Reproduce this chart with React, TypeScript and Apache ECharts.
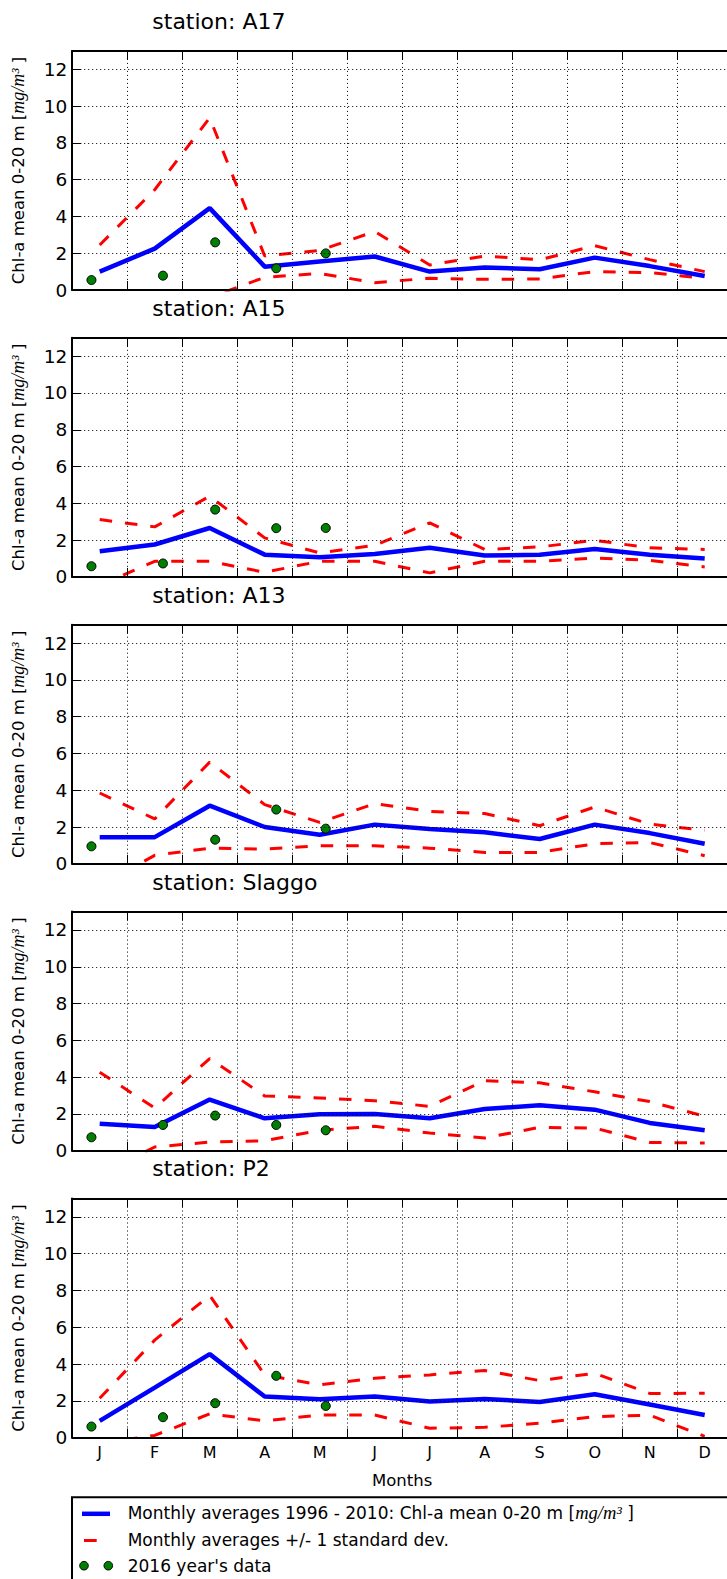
import React, { useEffect, useRef } from "react";
import * as echarts from "echarts";

// ---------- data ----------
const MONTH_LABELS = ["J", "F", "M", "A", "M", "J", "J", "A", "S", "O", "N", "D"];
const MONTH_MID = [0.5, 1.5, 2.5, 3.5, 4.5, 5.5, 6.5, 7.5, 8.5, 9.5, 10.5, 11.5];
const SAMPLE_MONTH = [0.35, 1.65, 2.6, 3.71, 4.61];
const STATIONS = ["A17", "A15", "A13", "Slaggo", "P2"];

const meanA17 = [1.0, 2.25, 4.45, 1.27, 1.55, 1.82, 1.0, 1.22, 1.13, 1.76, 1.3, 0.76];
const upperA17 = [2.45, 5.45, 9.36, 1.85, 2.15, 3.18, 1.36, 1.85, 1.64, 2.41, 1.65, 1.0];
const lowerA17 = [-0.45, -0.9, -0.4, 0.69, 0.9, 0.4, 0.64, 0.58, 0.6, 1.0, 0.95, 0.63];
const sampleA17 = [0.54, 0.78, 2.59, 1.18, 1.99];

const meanA15 = [1.4, 1.76, 2.66, 1.21, 1.07, 1.25, 1.58, 1.16, 1.21, 1.52, 1.21, 1.0];
const upperA15 = [3.12, 2.72, 4.39, 2.12, 1.3, 1.72, 2.94, 1.49, 1.63, 1.99, 1.58, 1.49];
const lowerA15 = [-0.45, 0.85, 0.85, 0.25, 0.85, 0.85, 0.22, 0.85, 0.85, 1.03, 0.9, 0.54];
const sampleA15 = [0.58, 0.73, 3.66, 2.65, 2.66];

const meanA13 = [1.45, 1.45, 3.16, 2.0, 1.58, 2.13, 1.89, 1.71, 1.35, 2.13, 1.67, 1.09];
const upperA13 = [3.85, 2.44, 5.53, 3.22, 2.25, 3.27, 2.85, 2.73, 2.07, 3.09, 2.16, 1.82];
const lowerA13 = [-1.2, 0.46, 0.85, 0.8, 0.98, 0.98, 0.85, 0.62, 0.62, 1.09, 1.16, 0.44];
const sampleA13: (number | null)[] = [0.95, null, 1.31, 2.95, 1.91];

const meanSlaggo = [1.47, 1.29, 2.78, 1.76, 1.98, 2.0, 1.76, 2.27, 2.47, 2.23, 1.51, 1.11];
const upperSlaggo = [4.27, 2.32, 5.01, 2.98, 2.87, 2.72, 2.41, 3.81, 3.69, 3.2, 2.67, 1.87];
const lowerSlaggo = [-1.33, 0.2, 0.47, 0.54, 1.11, 1.33, 0.96, 0.69, 1.27, 1.23, 0.45, 0.42];
const sampleSlaggo = [0.73, 1.4, 1.91, 1.4, 1.11];

const meanP2 = [0.91, 2.72, 4.54, 2.23, 2.09, 2.23, 1.96, 2.1, 1.94, 2.36, 1.8, 1.23];
const upperP2 = [2.14, 5.3, 7.73, 3.41, 2.87, 3.23, 3.41, 3.65, 3.1, 3.5, 2.4, 2.41];
const lowerP2 = [-0.32, 0.12, 1.29, 0.91, 1.23, 1.23, 0.51, 0.56, 0.78, 1.14, 1.22, 0.07];
const sampleP2 = [0.6, 1.11, 1.87, 3.36, 1.72];

const Y_TICKS_MIN = 0;
const Y_MAX = 13;
const Y_INTERVAL = 2;

const PANELS = [
  { mean: meanA17, upper: upperA17, lower: lowerA17, sample: sampleA17 as (number | null)[] },
  { mean: meanA15, upper: upperA15, lower: lowerA15, sample: sampleA15 as (number | null)[] },
  { mean: meanA13, upper: upperA13, lower: lowerA13, sample: sampleA13 },
  { mean: meanSlaggo, upper: upperSlaggo, lower: lowerSlaggo, sample: sampleSlaggo as (number | null)[] },
  { mean: meanP2, upper: upperP2, lower: lowerP2, sample: sampleP2 as (number | null)[] },
];

// ---------- layout ----------
const CHART_W = 760;
const CHART_H = 1579;
const GRID_LEFT = 72.2;
const GRID_W = 660;
const GRID_TOP0 = 50.9;
const GRID_STEP = 286.9;
const GRID_H = 239.1;
const FONT = "DejaVu Sans";
const MATH_FONT = "Liberation Serif";

function buildOption() {
  const grid: any[] = [];
  const xAxis: any[] = [];
  const yAxis: any[] = [];
  const series: any[] = [];
  const graphic: any[] = [];

  PANELS.forEach((p, k) => {
    const top = GRID_TOP0 + GRID_STEP * k;
    grid.push({ left: GRID_LEFT, top, width: GRID_W, height: GRID_H, containLabel: false });

    const last = k === PANELS.length - 1;
    // bottom category axis (labels, ticks, vertical grid)
    xAxis.push({
      type: "category",
      gridIndex: k,
      data: MONTH_LABELS,
      boundaryGap: true,
      position: "bottom",
      axisLine: { show: true, lineStyle: { color: "#000", width: 2 } },
      axisTick: { show: true, inside: true, length: 9, interval: 0, alignWithLabel: false, lineStyle: { color: "#000", width: 1 } },
      axisLabel: { show: last, interval: 0, margin: 7, color: "#000", fontSize: 16, fontFamily: FONT },
      splitLine: { show: true, interval: 0, lineStyle: { color: "#000", width: 1, type: [1, 3] } },
      z: 5,
    });
    // top axis (spine + ticks)
    xAxis.push({
      type: "category",
      gridIndex: k,
      data: MONTH_LABELS,
      boundaryGap: true,
      position: "top",
      axisLine: { show: true, lineStyle: { color: "#000", width: 2 } },
      axisTick: { show: true, inside: true, length: 9, interval: 0, alignWithLabel: false, lineStyle: { color: "#000", width: 1 } },
      axisLabel: { show: false },
      splitLine: { show: false },
      z: 5,
    });
    // value axis for data positions
    xAxis.push({
      type: "value",
      gridIndex: k,
      min: 0,
      max: 12,
      show: false,
    });

    yAxis.push({
      type: "value",
      gridIndex: k,
      min: Y_TICKS_MIN,
      max: Y_MAX,
      interval: Y_INTERVAL,
      axisLine: { show: true, lineStyle: { color: "#000", width: 2 } },
      axisTick: { show: true, inside: true, length: 9, lineStyle: { color: "#000", width: 1 } },
      axisLabel: { show: true, margin: 5, color: "#000", fontSize: 18.5, fontFamily: FONT, showMaxLabel: false },
      splitLine: { show: true, lineStyle: { color: "#000", width: 1, type: [1, 3] } },
      z: 5,
    });

    const xIdx = 3 * k + 2;
    series.push({
      type: "line",
      name: "Monthly averages +/- 1 standard dev.",
      xAxisIndex: xIdx,
      yAxisIndex: k,
      data: MONTH_MID.map((x, i) => [x, p.upper[i]]),
      symbol: "none",
      clip: true,
      lineStyle: { color: "#ff0000", width: 3, type: [12.5, 13] },
      z: 2,
    });
    series.push({
      type: "line",
      name: "Monthly averages +/- 1 standard dev. (lower)",
      xAxisIndex: xIdx,
      yAxisIndex: k,
      data: MONTH_MID.map((x, i) => [x, p.lower[i]]),
      symbol: "none",
      clip: true,
      lineStyle: { color: "#ff0000", width: 3, type: [12.5, 13] },
      z: 2,
    });
    series.push({
      type: "line",
      name: "Monthly averages 1996 - 2010",
      xAxisIndex: xIdx,
      yAxisIndex: k,
      data: MONTH_MID.map((x, i) => [x, p.mean[i]]),
      symbol: "none",
      clip: true,
      lineStyle: { color: "#0000ff", width: 4.5 },
      z: 3,
    });
    series.push({
      type: "scatter",
      name: "2016 year's data",
      xAxisIndex: xIdx,
      yAxisIndex: k,
      data: SAMPLE_MONTH.map((x, i) => [x, p.sample[i]]).filter((d) => d[1] !== null),
      symbol: "circle",
      symbolSize: 9,
      itemStyle: { color: "#008000", borderColor: "#000", borderWidth: 1, opacity: 1 },
      z: 4,
    });

    // station title
    graphic.push({
      type: "text",
      x: 152.3,
      y: 21.3 + GRID_STEP * k,
      style: {
        text: "station: " + STATIONS[k],
        font: `22px "${FONT}"`,
        fill: "#000",
        textAlign: "left",
        align: "left",
        textVerticalAlign: "middle",
        verticalAlign: "middle",
      },
    });
    // y axis label
    graphic.push({
      type: "text",
      x: 18.3,
      y: top + GRID_H / 2,
      rotation: Math.PI / 2,
      style: {
        text: "{a|Chl-a mean 0-20 m [}{b|mg/m³}{a| ]}",
        rich: {
          a: { fontFamily: FONT, fontSize: 16.5, fill: "#000" },
          b: { fontFamily: MATH_FONT, fontStyle: "italic", fontSize: 18, fill: "#000" },
        },
        fill: "#000",
        textAlign: "center",
        align: "center",
        textVerticalAlign: "middle",
        verticalAlign: "middle",
      },
    });
  });

  // x axis title
  graphic.push({
    type: "text",
    x: GRID_LEFT + 330,
    y: 1480.7,
    style: {
      text: "Months",
      font: `16.5px "${FONT}"`,
      fill: "#000",
      textAlign: "center",
      align: "center",
      textVerticalAlign: "middle",
      verticalAlign: "middle",
    },
  });

  // legend box
  graphic.push({
    type: "rect",
    shape: { x: 72, y: 1497.3, width: 720, height: 200 },
    style: { fill: "#fff", stroke: "#000", lineWidth: 2 },
    z: 10,
  });
  graphic.push({
    type: "line",
    shape: { x1: 82, y1: 1513.8, x2: 110, y2: 1513.8 },
    style: { stroke: "#0000ff", lineWidth: 4.5 },
    z: 11,
  });
  graphic.push({
    type: "line",
    shape: { x1: 84, y1: 1540.5, x2: 96.7, y2: 1540.5 },
    style: { stroke: "#ff0000", lineWidth: 3 },
    z: 11,
  });
  [84, 108.3].forEach((cx) =>
    graphic.push({
      type: "circle",
      shape: { cx, cy: 1565.7, r: 4.3 },
      style: { fill: "#008000", stroke: "#000", lineWidth: 1 },
      z: 11,
    })
  );
  const legendTexts = [
    { y: 1513.3, text: "{a|Monthly averages 1996 - 2010: Chl-a mean 0-20 m [}{b|mg/m³}{a| ]}" },
    { y: 1540.3, text: "{a|Monthly averages +/- 1 standard dev.}" },
    { y: 1565.7, text: "{a|2016 year's data}" },
  ];
  legendTexts.forEach((t) =>
    graphic.push({
      type: "text",
      x: 127.7,
      y: t.y,
      z: 11,
      style: {
        text: t.text,
        rich: {
          a: { fontFamily: FONT, fontSize: 17, fill: "#000" },
          b: { fontFamily: MATH_FONT, fontStyle: "italic", fontSize: 18.5, fill: "#000" },
        },
        fill: "#000",
        textAlign: "left",
        align: "left",
        textVerticalAlign: "middle",
        verticalAlign: "middle",
      },
    })
  );

  return {
    animation: false,
    backgroundColor: "#fff",
    grid,
    xAxis,
    yAxis,
    series,
    graphic,
  };
}

export default function App() {
  const ref = useRef<HTMLDivElement>(null);
  useEffect(() => {
    if (!ref.current) return;
    const chart = echarts.init(ref.current, undefined, { renderer: "svg" });
    chart.setOption(buildOption() as any);
    return () => chart.dispose();
  }, []);
  return (
    <div
      style={{
        position: "absolute",
        left: 0,
        top: 0,
        width: 727,
        height: CHART_H,
        overflow: "hidden",
        background: "#fff",
      }}
    >
      <div ref={ref} style={{ width: CHART_W, height: CHART_H }} />
    </div>
  );
}
